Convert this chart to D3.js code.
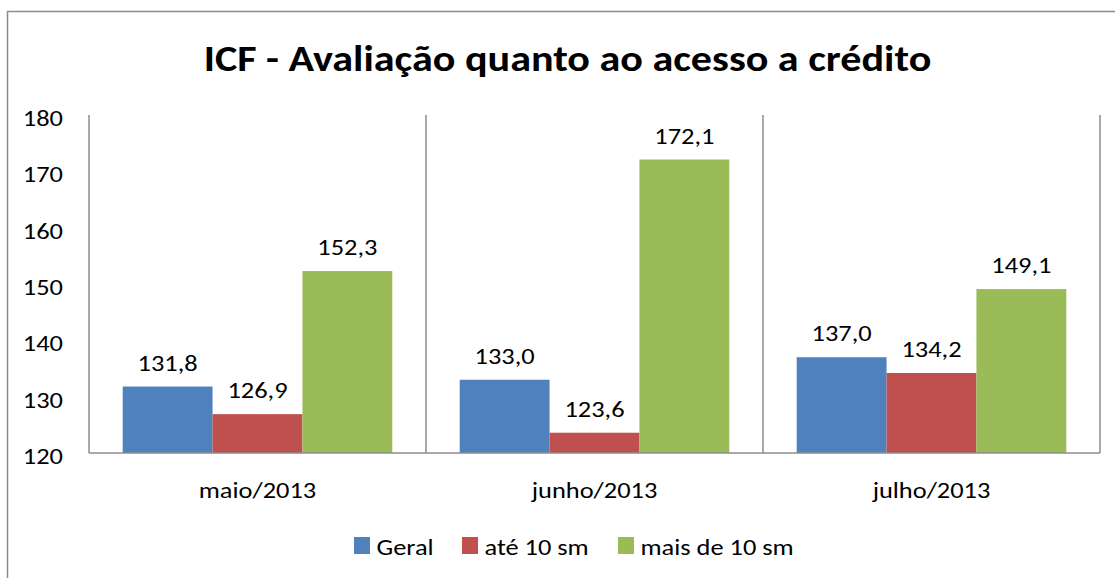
<!DOCTYPE html>
<html>
<head>
<meta charset="utf-8">
<script src="https://cdn.jsdelivr.net/npm/d3@7"></script>
<style>
  body { margin: 0; background: #fff; }
  text { font-family: Calibri, Carlito, Lato, "Open Sans", sans-serif; fill: #000; }
</style>
</head>
<body>
<div id="chart"></div>
<script>
// data
var categories = ["maio/2013", "junho/2013", "julho/2013"];
var seriesNames = ["Geral", "até 10 sm", "mais de 10 sm"];
var geral = [131.8, 133.0, 137.0];
var ate10 = [126.9, 123.6, 134.2];
var mais10 = [152.3, 172.1, 149.1];
var yTicks = [120, 130, 140, 150, 160, 170, 180];
var colors = ["#4F81BD", "#C0504D", "#9BBB59"];

var W = 1115, H = 578;
var FONT = "Calibri, Carlito, Lato, 'Open Sans', sans-serif";
var margin = {top: 115, left: 89},
    width = 1100 - margin.left,
    height = 453 - margin.top;

// the original text is drawn wider than Lato, so stretch it a bit
function stretch(sel, k) {
    sel.each(function() {
        var w = this.getComputedTextLength();
        d3.select(this)
            .attr("textLength", w * k)
            .attr("lengthAdjust", "spacingAndGlyphs");
    });
}

var svg = d3.select("#chart").append("svg")
    .attr("width", W)
    .attr("height", H);

// outer chart border (runs off the right/bottom of the picture)
svg.append("rect")
    .attr("x", 7.5).attr("y", 11.5)
    .attr("width", W).attr("height", H)
    .attr("fill", "none")
    .attr("stroke", "#8c8c8c")
    .attr("stroke-width", 1.5);

svg.append("text")
    .attr("x", 567.5).attr("y", 71)
    .attr("text-anchor", "middle")
    .attr("font-size", 36)
    .attr("font-weight", "bold")
    .text("ICF - Avaliação quanto ao acesso a crédito")
    .call(stretch, 1.17);

var g = svg.append("g")
    .attr("transform", "translate(" + margin.left + "," + margin.top + ")");

var x = d3.scaleBand()
    .domain(categories)
    .range([0, width]);

// gap width 75% of a bar -> 0.375 bar each side
var xs = d3.scaleBand()
    .domain(seriesNames)
    .range([0, x.bandwidth()])
    .paddingInner(0)
    .paddingOuter(0.375);

var y = d3.scaleLinear()
    .domain([120, 180])
    .range([height, 0]);

var allSeries = [geral, ate10, mais10];
var rows = [];
categories.forEach(function(c, i) {
    seriesNames.forEach(function(s, j) {
        rows.push({cat: c, name: s, value: allSeries[j][i], color: colors[j]});
    });
});

// bars
g.selectAll("rect.bar")
    .data(rows)
    .enter()
    .append("rect")
    .attr("class", "bar")
    .attr("x", function(d) { return x(d.cat) + xs(d.name); })
    .attr("y", function(d) { return y(d.value); })
    .attr("width", xs.bandwidth())
    .attr("height", function(d) { return height - y(d.value); })
    .attr("fill", function(d) { return d.color; });

// value labels
g.selectAll("text.val")
    .data(rows)
    .enter()
    .append("text")
    .attr("class", "val")
    .attr("x", function(d) { return x(d.cat) + xs(d.name) + xs.bandwidth() / 2; })
    .attr("y", function(d) { return y(d.value) - 16; })
    .attr("text-anchor", "middle")
    .attr("font-size", 22)
    .text(function(d) { return d3.format(".1f")(d.value).replace(".", ","); })
    .call(stretch, 1.2);

// category separators and axis lines
var bounds = categories.map(function(c) { return x(c); }).concat([width]);
g.selectAll("line.sep")
    .data(bounds)
    .enter()
    .append("line")
    .attr("x1", function(d) { return d; })
    .attr("x2", function(d) { return d; })
    .attr("y1", 0)
    .attr("y2", height)
    .attr("stroke", "#8c8c8c")
    .attr("stroke-width", 1.5);

g.append("line")
    .attr("x1", 0).attr("x2", width)
    .attr("y1", height).attr("y2", height)
    .attr("stroke", "#8c8c8c")
    .attr("stroke-width", 1.5);

// y axis labels
var yAxis = g.append("g")
    .call(d3.axisLeft(y).tickValues(yTicks).tickSize(0).tickPadding(26));
yAxis.select(".domain").remove();
yAxis.selectAll("text")
    .attr("font-size", 22)
    .attr("dy", "0.48em")
    .style("font-family", FONT)
    .attr("fill", "#000")
    .call(stretch, 1.2);

// x axis labels
var xAxis = g.append("g")
    .attr("transform", "translate(0," + height + ")")
    .call(d3.axisBottom(x).tickSize(0));
xAxis.select(".domain").remove();
xAxis.selectAll("text")
    .attr("font-size", 22)
    .attr("y", 45)
    .attr("dy", null)
    .style("font-family", FONT)
    .attr("fill", "#000")
    .call(stretch, 1.2);

// legend
var legendX = [354, 462, 618];
var legend = svg.selectAll("g.leg")
    .data(seriesNames)
    .enter()
    .append("g")
    .attr("class", "leg")
    .attr("transform", function(d, i) { return "translate(" + legendX[i] + ",537)"; });
legend.append("rect")
    .attr("width", 16).attr("height", 17)
    .attr("fill", function(d, i) { return colors[i]; });
legend.append("text")
    .attr("x", 22.5).attr("y", 17.5)
    .attr("font-size", 22)
    .text(function(d) { return d; })
    .call(stretch, 1.2);
</script>
</body>
</html>
